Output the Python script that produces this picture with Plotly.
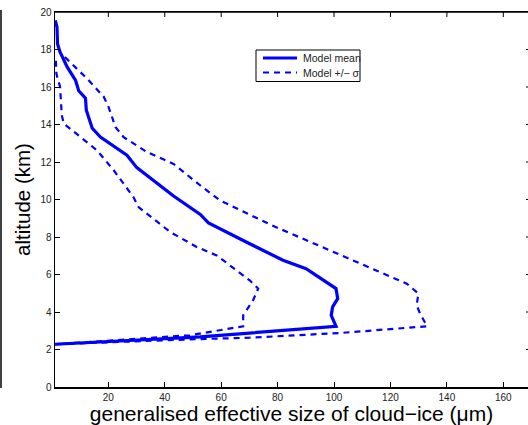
import plotly.graph_objects as go

# Model mean profile (effective size in µm, altitude in km)
mean_size = [1.2, 1.8, 2.0, 2.8, 5.4, 8.4, 9.5, 11.9, 12.2, 14.3, 17.2, 26.6, 30.1, 43.0,
             52.6, 55.5, 68.0, 81.9, 90.1, 97.2, 100.7, 101.3, 99.5, 99.0, 100.7, 52.5, 1.1]
mean_alt = [19.55, 19.2, 18.3, 17.9, 17.07, 16.35, 15.8, 15.4, 14.76, 13.8, 13.33, 12.36, 11.7, 10.2,
            9.2, 8.75, 7.8, 6.76, 6.31, 5.6, 5.25, 4.71, 4.27, 3.82, 3.24, 2.67, 2.28]

# Model mean + sigma
plus_size = [4.6, 13.1, 18.4, 20.1, 22.5, 25.4, 33.7, 43.1, 52.5, 59.5, 78.0, 97.0, 111.5,
             125.8, 129.9, 129.3, 130.5, 133.0, 102.1, 70.1, 48.9, 1.1]
plus_alt = [17.6, 16.35, 15.47, 14.93, 13.87, 13.33, 12.53, 11.9, 10.76, 9.96, 8.62, 7.38, 6.4,
            5.51, 4.98, 4.36, 3.91, 3.24, 2.88, 2.63, 2.54, 2.28]

# Model mean - sigma
minus_size = [1.4, 1.6, 2.9, 3.5, 4.2, 11.3, 16.0, 21.9, 28.9, 30.7, 41.9, 51.3, 58.4, 70.1,
              73.1, 71.3, 67.8, 67.8, 48.9, 1.1]
minus_alt = [17.4, 16.7, 16.0, 14.5, 14.05, 13.16, 12.62, 11.56, 10.13, 9.6, 8.27, 7.47, 7.02, 5.69,
             5.25, 4.62, 3.82, 3.24, 2.76, 2.28]

x_ticks = [20, 40, 60, 80, 100, 120, 140, 160]
y_ticks = [0, 2, 4, 6, 8, 10, 12, 14, 16, 18, 20]
legend_labels = ["Model mean", "Model +/\u2212 \u03c3"]

BLUE = "rgb(0,0,255)"
FONT = "Liberation Sans, Arial, Helvetica, sans-serif"

W, H = 528, 425
ML, MR, MT, MB = 55, 0, 12, 38
PW, PH = W - ML - MR, H - MT - MB
XR = [1.1, 168.75]
YR = [0, 20]


def px(x):
    return (x - ML) / PW


def py(y):
    return (H - MB - y) / PH


fig = go.Figure()
fig.add_trace(go.Scatter(x=mean_size, y=mean_alt, mode="lines", name=legend_labels[0],
                         line=dict(color=BLUE, width=3.2)))
fig.add_trace(go.Scatter(x=plus_size, y=plus_alt, mode="lines", name=legend_labels[1],
                         line=dict(color=BLUE, width=2.2, dash="6px,5px")))
fig.add_trace(go.Scatter(x=minus_size, y=minus_alt, mode="lines", name="Model -",
                         line=dict(color=BLUE, width=2.2, dash="6px,5px")))

shapes = []
# left edge line (neighbouring panel border)
shapes.append(dict(type="line", xref="paper", yref="paper",
                   x0=px(1), x1=px(1), y0=py(388), y1=py(10),
                   line=dict(color="black", width=1.5)))
# top axis line
shapes.append(dict(type="line", xref="paper", yref="paper",
                   x0=0, x1=1, y0=py(12), y1=py(12),
                   line=dict(color="black", width=1.5)))
# top ticks (inward)
for t in x_ticks:
    shapes.append(dict(type="line", xref="x", yref="paper", x0=t, x1=t,
                       y0=py(12), y1=py(17), line=dict(color="black", width=1)))
# right ticks (stubs at image edge)
for t in y_ticks[1:-1]:
    shapes.append(dict(type="line", xref="paper", yref="y", x0=1 - 2 / PW, x1=1,
                       y0=t, y1=t, line=dict(color="black", width=1)))

# legend box (drawn manually to match the compact MATLAB legend)
shapes.append(dict(type="rect", xref="paper", yref="paper",
                   x0=px(256), x1=px(360), y0=py(81.5), y1=py(50),
                   line=dict(color="black", width=1), fillcolor="white"))
shapes.append(dict(type="line", xref="paper", yref="paper",
                   x0=px(263), x1=px(297), y0=py(58), y1=py(58),
                   line=dict(color=BLUE, width=3)))
shapes.append(dict(type="line", xref="paper", yref="paper",
                   x0=px(263), x1=px(297), y0=py(72.5), y1=py(72.5),
                   line=dict(color=BLUE, width=2, dash="6px,5px")))

annotations = []
for lab, yy in zip(legend_labels, [58, 72.5]):
    annotations.append(dict(text=lab, xref="paper", yref="paper", x=px(300.5), y=py(yy),
                            xanchor="left", yanchor="middle", showarrow=False,
                            font=dict(size=10.5, color="#222", family=FONT)))

fig.update_layout(
    template="none",
    width=W, height=H,
    margin=dict(l=ML, r=MR, t=MT, b=MB, autoexpand=False),
    paper_bgcolor="white", plot_bgcolor="white",
    font=dict(family=FONT, color="#222"),
    showlegend=False,
    xaxis=dict(range=XR, tickvals=x_ticks, ticks="inside", ticklen=5,
               tickwidth=1, tickcolor="black", showline=True, linecolor="black",
               linewidth=1.5, mirror=True, showgrid=False, zeroline=False, automargin=False,
               tickfont=dict(size=10, color="#222"),
               title=dict(text="generalised effective size of cloud\u2212ice (\u03bcm)",
                          font=dict(size=21, color="black"), standoff=3)),
    yaxis=dict(range=YR, tickvals=y_ticks, ticks="inside", ticklen=5,
               tickwidth=1, tickcolor="black", showline=True, linecolor="black",
               linewidth=1.5, showgrid=False, zeroline=False, automargin=False,
               tickfont=dict(size=10, color="#222"),
               title=dict(text="altitude (km)", font=dict(size=20.5, color="black"), standoff=4)),
    shapes=shapes,
    annotations=annotations,
)

fig.write_html("out.html", config={"staticPlot": True, "displayModeBar": False})
